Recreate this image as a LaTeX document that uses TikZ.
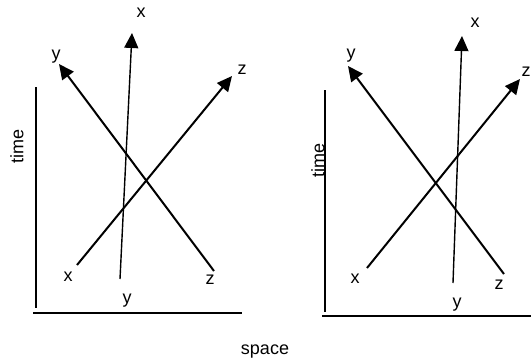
\documentclass[tikz,border=0pt]{standalone}
\usepackage{fontspec}
\setmainfont{Liberation Sans}
\usetikzlibrary{arrows.meta}
\begin{document}
\begin{tikzpicture}[x=1pt,y=-1pt,
  lbl/.style={inner sep=0pt,font=\fontsize{18}{21}\selectfont},
  axis/.style={line width=1.5pt},
  wl/.style={line width=2pt,-{Triangle[length=15pt,width=14pt]}},
  wlthin/.style={line width=1.4pt,-{Triangle[length=15pt,width=14pt]}}]
\useasboundingbox (0,0) rectangle (531,360);
% ---------- left panel ----------
\coordinate (Lt) at (36,87);
\coordinate (Lb) at (36,308);
\coordinate (Ll) at (33,313);
\coordinate (Lr) at (242,313);
\draw[axis] (Lt) -- (Lb);
\draw[axis] (Ll) -- (Lr);
\node[lbl,rotate=90] (Ltime) at (17,146) {time};
\coordinate (Lxs) at (120,279);
\coordinate (Lxe) at (132,33);
\coordinate (Lys) at (214,271);
\coordinate (Lye) at (59,64);
\coordinate (Lzs) at (77,265);
\coordinate (Lze) at (232,76);
\draw[wlthin] (Lxs) -- (Lxe);
\draw[wl] (Lys) -- (Lye);
\draw[wl] (Lzs) -- (Lze);
\node[lbl] (Lxt) at (141,13) {x};
\node[lbl] (Lyt) at (56,57) {y};
\node[lbl] (Lzt) at (242,70) {z};
\node[lbl] (Lxb) at (68,277) {x};
\node[lbl] (Lyb) at (127,301) {y};
\node[lbl] (Lzb) at (210,280) {z};
% ---------- right panel ----------
\coordinate (Rt) at (325,90);
\coordinate (Rb) at (325,312);
\coordinate (Rl) at (322,316);
\coordinate (Rr) at (531,316);
\draw[axis] (Rt) -- (Rb);
\draw[axis] (Rl) -- (Rr);
\node[lbl,rotate=90] (Rtime) at (318,160) {time};
\coordinate (Rxs) at (453,283);
\coordinate (Rxe) at (462,36);
\coordinate (Rys) at (504,274);
\coordinate (Rye) at (348,66);
\coordinate (Rzs) at (367,268);
\coordinate (Rze) at (520,79);
\draw[wlthin] (Rxs) -- (Rxe);
\draw[wl] (Rys) -- (Rye);
\draw[wl] (Rzs) -- (Rze);
\node[lbl] (Rxt) at (475,23) {x};
\node[lbl] (Ryt) at (351,56) {y};
\node[lbl] (Rzt) at (526,72) {z};
\node[lbl] (Rxb) at (355,279) {x};
\node[lbl] (Ryb) at (457,305) {y};
\node[lbl] (Rzb) at (499,285) {z};
% ---------- common label ----------
\node[lbl] (space) at (265,352) {space};
\end{tikzpicture}
\end{document}
